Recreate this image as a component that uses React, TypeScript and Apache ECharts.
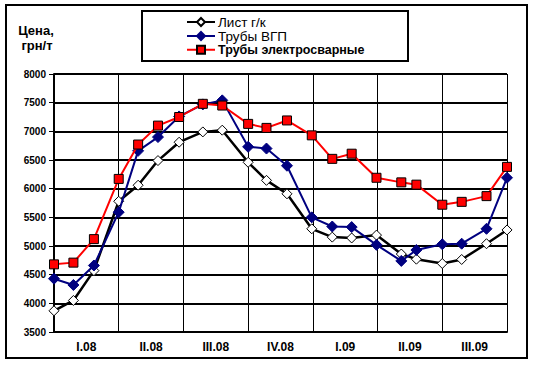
import React, { useEffect, useRef } from "react";
import * as echarts from "echarts";

const monthPos = [0, 0.9, 1.85, 3, 3.9, 4.82, 5.8, 6.9, 7.8, 9, 9.85, 10.8, 11.95, 12.9, 13.8, 14.95, 16.1, 16.8, 18, 18.9, 20.05, 21];
const quarterLabels = ["I.08", "II.08", "III.08", "IV.08", "I.09", "II.09", "III.09"];
const listGK = [3870, 4050, 4570, 5780, 6060, 6490, 6810, 6990, 7020, 6460, 6145, 5910, 5300, 5155, 5140, 5190, 4860, 4770, 4695, 4765, 5040, 5280];
const trubyVGP = [4430, 4320, 4660, 5590, 6660, 6900, 7260, 7470, 7540, 6730, 6700, 6400, 5500, 5340, 5330, 5020, 4740, 4930, 5030, 5040, 5300, 6190];
const trubyES = [4680, 4710, 5120, 6170, 6770, 7100, 7250, 7480, 7450, 7130, 7060, 7190, 6930, 6520, 6610, 6190, 6110, 6070, 5720, 5770, 5870, 6380];
const seriesNames = ["Лист г/к", "Трубы ВГП", "Трубы электросварные"];

const pair = (vals: number[]) => vals.map((v, i) => [monthPos[i], v]);

export default function App() {
  const ref = useRef<HTMLDivElement>(null);
  useEffect(() => {
    if (!ref.current) return;
    const chart = echarts.init(ref.current, null, { renderer: "svg" });
    const font = "Liberation Sans, Arial, sans-serif";
    chart.setOption({
      animation: false,
      backgroundColor: "#ffffff",
      grid: { left: 54, right: 26, top: 74, bottom: 33, containLabel: false },
      graphic: [
        {
          type: "rect",
          shape: { x: 6, y: 5, width: 521, height: 353 },
          style: { fill: "none", stroke: "#000", lineWidth: 2 },
          silent: true,
        },
        {
          type: "rect",
          shape: { x: 142, y: 11, width: 266, height: 50 },
          style: { fill: "#fff", stroke: "#000", lineWidth: 2 },
          silent: true,
          z: -1,
        },
        {
          type: "text",
          x: 36,
          y: 30,
          style: { text: "Цена,", font: "bold 13px " + font, fill: "#000", align: "center", verticalAlign: "middle" },
        },
        {
          type: "text",
          x: 37,
          y: 45,
          style: { text: "грн/т", font: "bold 13px " + font, fill: "#000", align: "center", verticalAlign: "middle" },
        },
      ],
      legend: {
        orient: "vertical",
        left: 186,
        top: 15,
        itemWidth: 28,
        itemHeight: 10,
        itemGap: 0,
        padding: 0,
        formatter: (name: string) => (name === seriesNames[2] ? "{b|" + name + "}" : "{n|" + name + "}"),
        textStyle: {
          fontFamily: font,
          fontSize: 13,
          lineHeight: 13.5,
          color: "#000",
          padding: [0, 0, 0, -2],
          rich: {
            n: { fontFamily: font, fontSize: 13.5, lineHeight: 13.5, color: "#000" },
            b: { fontFamily: font, fontSize: 12.5, lineHeight: 13.5, fontWeight: "bold", color: "#000" },
          },
        },
        data: seriesNames,
      },
      xAxis: [
        {
          type: "value",
          min: 0,
          max: 21,
          interval: 3,
          axisLine: { show: true, lineStyle: { color: "#000", width: 2 } },
          axisTick: { show: false },
          axisLabel: { show: false },
          splitLine: { show: true, lineStyle: { color: "#000", width: 1 } },
        },
        {
          type: "category",
          data: quarterLabels,
          position: "bottom",
          boundaryGap: true,
          axisLine: { show: false },
          axisTick: { show: false },
          splitLine: { show: false },
          axisLabel: { fontFamily: font, fontSize: 12, fontWeight: "bold", color: "#000", margin: 9 },
        },
      ],
      yAxis: {
        type: "value",
        min: 3500,
        max: 8000,
        interval: 500,
        axisLine: { show: true, lineStyle: { color: "#000", width: 2 } },
        axisTick: { show: true, length: 5, lineStyle: { color: "#000", width: 1 } },
        axisLabel: {
          fontFamily: font,
          fontSize: 10,
          fontWeight: "bold",
          color: "#000",
          margin: 8,
          formatter: (v: number) => String(v),
        },
        splitLine: { show: true, lineStyle: { color: "#000", width: 2 } },
      },
      series: [
        {
          name: seriesNames[0],
          type: "line",
          xAxisIndex: 0,
          data: pair(listGK),
          symbol: "diamond",
          symbolSize: 10,
          lineStyle: { color: "#000", width: 2.5 },
          itemStyle: { color: "#fff", borderColor: "#000", borderWidth: 1 },
          z: 2,
        },
        {
          name: seriesNames[1],
          type: "line",
          xAxisIndex: 0,
          data: pair(trubyVGP),
          symbol: "diamond",
          symbolSize: 11,
          lineStyle: { color: "#000080", width: 2 },
          itemStyle: { color: "#000080", borderColor: "#000080", borderWidth: 1 },
          z: 3,
        },
        {
          name: seriesNames[2],
          type: "line",
          xAxisIndex: 0,
          data: pair(trubyES),
          symbol: "rect",
          symbolSize: 9,
          lineStyle: { color: "#ff0000", width: 2 },
          itemStyle: { color: "#ff0000", borderColor: "#000", borderWidth: 1 },
          z: 4,
        },
      ],
    });
    return () => chart.dispose();
  }, []);
  return <div ref={ref} style={{ position: "fixed", left: 0, top: 0, width: 533, height: 365 }} />;
}
